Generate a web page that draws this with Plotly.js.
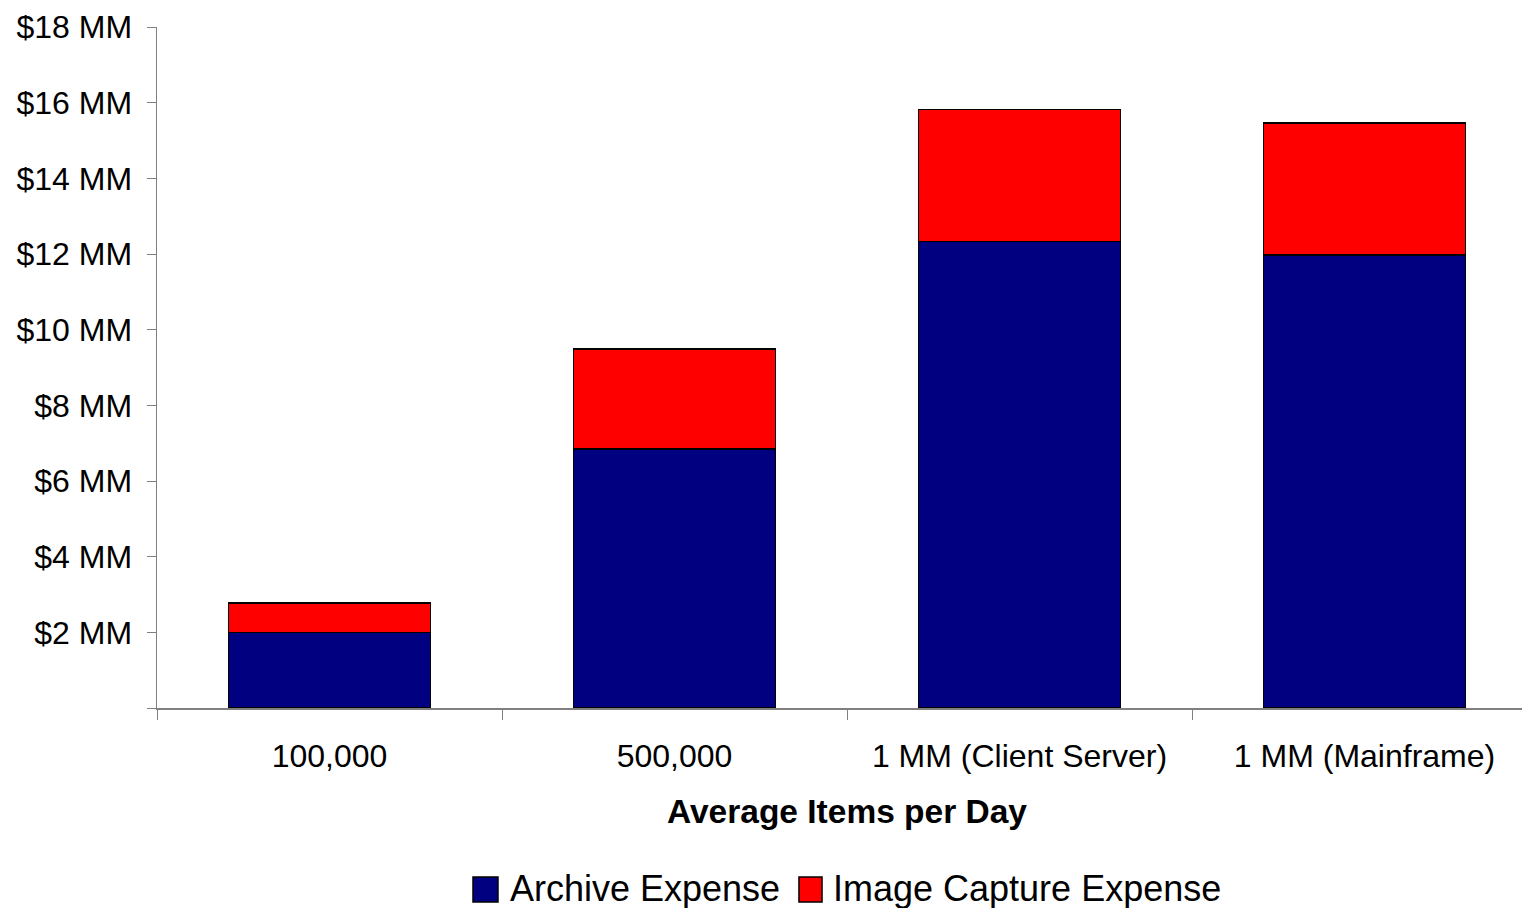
<!DOCTYPE html>
<html><head><meta charset="utf-8">
<script src="https://cdn.plot.ly/plotly-3.0.1.min.js"></script>
<style>html,body{margin:0;padding:0;background:#fff;} #chart{width:1522px;height:908px;}</style>
</head><body><div id="chart"></div>
<script>
// Data (values in $ millions)
const categories = ["100,000", "500,000", "1 MM (Client Server)", "1 MM (Mainframe)"];
const archiveExpense = [2.0, 6.85, 12.33, 11.97];
const imageCaptureExpense = [0.77, 2.64, 3.49, 3.49];
const seriesNames = ["Archive Expense", "Image Capture Expense"];
const seriesColors = ["#000080", "#FF0000"];
const yTickVals = [0, 2, 4, 6, 8, 10, 12, 14, 16, 18];
const yTickText = ["", "$2 MM", "$4 MM", "$6 MM", "$8 MM", "$10 MM", "$12 MM", "$14 MM", "$16 MM", "$18 MM"];
const xAxisTitle = "Average Items per Day";

const FONT = "Liberation Sans, Arial, sans-serif";
const seriesValues = [archiveExpense, imageCaptureExpense];

const traces = seriesValues.map((vals, i) => ({
  type: "bar",
  x: categories,
  y: vals,
  name: seriesNames[i],
  marker: { color: seriesColors[i], line: { color: "#000000", width: 1.5 } },
  hoverinfo: "none"
}));

// manual legend (large squares like the reference)
const legendItems = [
  { sq: [0.2315, 0.2498], tx: 0.2572 },
  { sq: [0.4703, 0.4872], tx: 0.4937 }
];
const shapes = legendItems.map((it, i) => ({
  type: "rect", xref: "paper", yref: "paper",
  x0: it.sq[0], x1: it.sq[1], y0: -0.2849, y1: -0.2482,
  fillcolor: seriesColors[i], line: { color: "#000000", width: 1.5 }
}));
const annotations = [
  { text: "<b>" + xAxisTitle + "</b>", xref: "x", yref: "paper", x: 1.5, y: -0.1527,
    xanchor: "center", yanchor: "middle", showarrow: false,
    font: { family: FONT, size: 33.5, color: "#000" } }
].concat(legendItems.map((it, i) => ({
  text: seriesNames[i], xref: "paper", yref: "paper", x: it.tx, y: -0.265,
  xanchor: "left", yanchor: "middle", showarrow: false,
  font: { family: FONT, size: 36, color: "#000" }
})));

const layout = {
  width: 1522, height: 908,
  margin: { l: 157, r: 0, t: 27, b: 200, pad: 0 },
  barmode: "stack",
  bargap: 0.415,
  showlegend: false,
  font: { family: FONT, color: "#000" },
  paper_bgcolor: "#ffffff", plot_bgcolor: "#ffffff",
  xaxis: {
    type: "category", range: [-0.5, 3.4565], tickson: "boundaries",
    ticks: "outside", ticklen: 10, tickcolor: "#808080", tickwidth: 1,
    showline: true, linecolor: "#808080", linewidth: 1.5,
    showgrid: false, zeroline: false, fixedrange: true,
    ticklabelstandoff: 19,
    tickfont: { family: FONT, size: 32, color: "#000" }
  },
  yaxis: {
    range: [0, 18], tickmode: "array", tickvals: yTickVals, ticktext: yTickText,
    ticks: "outside", ticklen: 9, tickcolor: "#808080", tickwidth: 1,
    showline: true, linecolor: "#808080", linewidth: 1.5,
    showgrid: false, zeroline: false, fixedrange: true,
    ticklabelstandoff: 8,
    tickfont: { family: FONT, size: 32, color: "#000" }
  },
  shapes: shapes,
  annotations: annotations
};

Plotly.newPlot("chart", traces, layout, { displayModeBar: false, staticPlot: true });
</script>
</body></html>
